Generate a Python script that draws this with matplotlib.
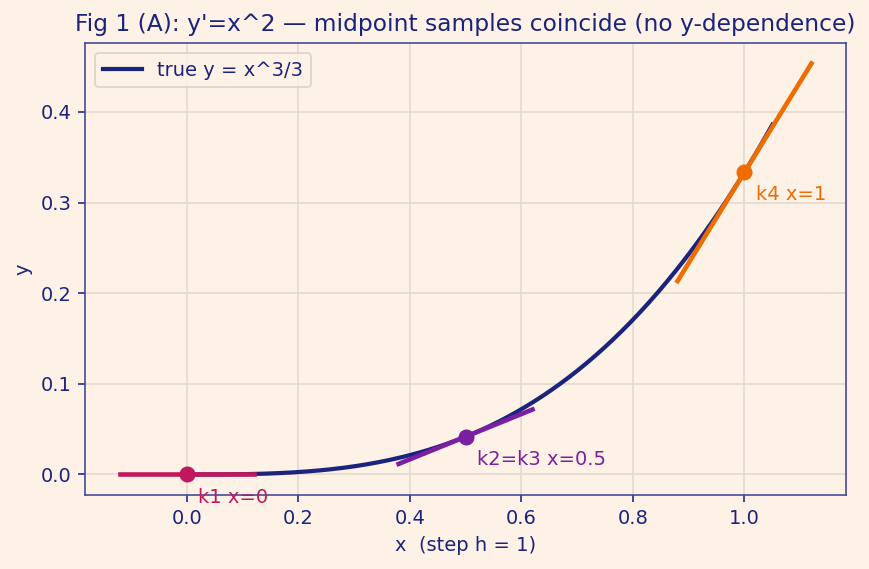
import numpy as np
import matplotlib.pyplot as plt

# data
curve_x = np.linspace(0.0, 1.05, 200)
curve_y = curve_x ** 3 / 3
sample_x = [0.0, 0.5, 1.0]
sample_labels = ["k1 x=0", "k2=k3 x=0.5", "k4 x=1"]
sample_colors = ["#c2185b", "#7b1fa2", "#ef6c00"]
half_width = 0.12

bg = "#fef2e7"
navy = "#1a237e"

fig = plt.figure(figsize=(869 / 144, 569 / 144), dpi=144, facecolor=bg)
ax = fig.add_axes([0.098, 0.130, 0.8755, 0.7945], facecolor=bg)

ax.plot(curve_x, curve_y, color=navy, lw=2.1, label="true y = x^3/3", zorder=2)

for x0, lab, c in zip(sample_x, sample_labels, sample_colors):
    y0 = x0 ** 3 / 3
    slope = x0 ** 2
    xs = np.array([x0 - half_width, x0 + half_width])
    ax.plot(xs, y0 + slope * (xs - x0), color=c, lw=2.3, zorder=3)
    ax.plot([x0], [y0], "o", color=c, ms=7, zorder=4)
    ax.text(x0 + 0.02, y0 - 0.025, lab, color=c, fontsize=9.75, ha="left", va="center")

ax.set_title("Fig 1 (A): y'=x^2 — midpoint samples coincide (no y-dependence)",
             color=navy, fontsize=11.7)
ax.set_xlabel("x  (step h = 1)", color=navy, fontsize=9.75)
ax.set_ylabel("y", color=navy, fontsize=9.75)
ax.tick_params(colors=navy, labelsize=9.75)
for s in ax.spines.values():
    s.set_color("#3f4596")
ax.grid(True, color="#e3d9cf", lw=0.8)
ax.set_axisbelow(True)
leg = ax.legend(loc="upper left", fontsize=9.75, facecolor=bg, edgecolor="#d8d0c8")
for t in leg.get_texts():
    t.set_color(navy)

fig.savefig("out.png", dpi=144, facecolor=bg)
